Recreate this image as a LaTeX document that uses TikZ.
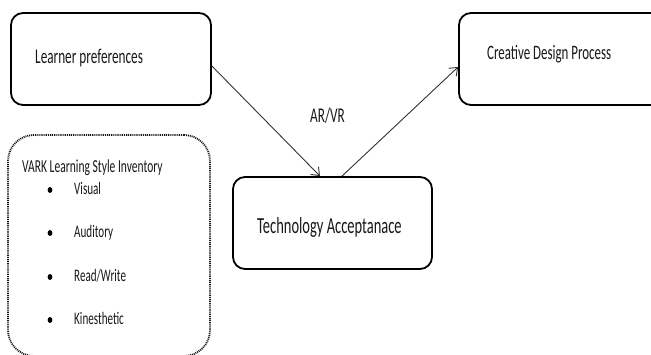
\documentclass[tikz,border=0pt]{standalone}
\usepackage{fontspec}
\setmainfont{Carlito}
\usetikzlibrary{arrows.meta}
\newcommand{\sqtext}[2]{\scalebox{0.63}[1]{\fontsize{#1}{#1}\selectfont #2}}
\tikzset{
  box/.style={draw=black, line width=1.8pt, rounded corners=12pt, inner sep=0pt},
  dotbox/.style={draw=black!90, line width=1.8pt, dash pattern=on 1pt off 0.9pt, rounded corners=26pt, inner sep=0pt},
  lbl/.style={inner sep=0pt, anchor=base west, text=black!90},
  conn/.style={draw=black!80, line width=0.9pt, -{Straight Barb[length=7pt,width=11pt,line width=0.9pt]}},
}
\begin{document}
\begin{tikzpicture}[x=1pt,y=-1pt]
\useasboundingbox (0,0) rectangle (651,355);
\clip (0,0) rectangle (651,355);
\fill[white] (0,0) rectangle (651,355);
% boxes
\node[box, minimum width=200pt, minimum height=92pt] (lp) at (111,59) {};
\node[box, minimum width=199pt, minimum height=92pt] (ta) at (332.5,223) {};
\node[box, minimum width=204pt, minimum height=92pt] (cd) at (561,59) {};
\node[dotbox, minimum width=202pt, minimum height=221pt] (vk) at (109,245.5) {};
% labels
\node[lbl] (lpt) at (35,64) {\sqtext{21}{Learner preferences}};
\node[lbl] (tat) at (257,234) {\sqtext{23}{Technology Acceptanace}};
\node[lbl] (cdt) at (487,60) {\sqtext{20.5}{Creative Design Process}};
\node[lbl] (arvr) at (310,123) {\sqtext{21}{AR/VR}};
\node[lbl] (vkt) at (22,173) {\sqtext{18.3}{VARK Learning Style Inventory}};
\foreach \t/\y/\n in {Visual/195/a, Auditory/238/b, Read\slash Write/282/c, Kinesthetic/325/d}{
  \node[lbl] (it\n) at (74,\y) {\sqtext{17.6}{\t}};
  \fill[black] (50,\y-5) circle[x radius=2.4pt, y radius=3pt];
}
% connectors
\draw[conn] ([yshift=-7pt]lp.east) -- ([xshift=-12.5pt]ta.north);
\draw[conn] ([xshift=9.5pt]ta.north) -- ([yshift=-8pt]cd.west);
\end{tikzpicture}
\end{document}
